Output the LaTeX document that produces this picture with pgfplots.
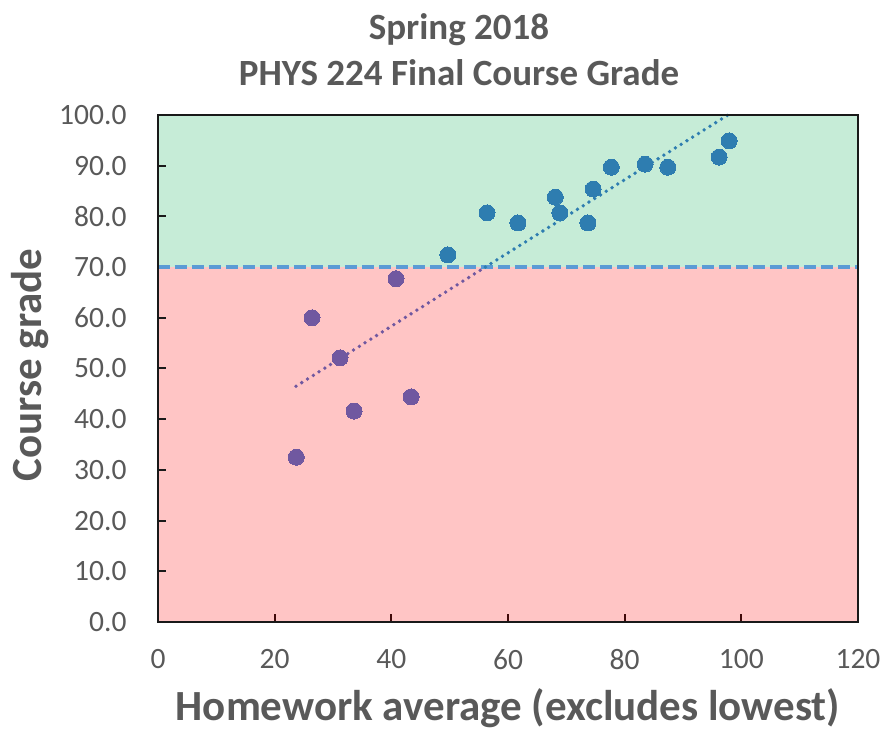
\documentclass[border=0pt]{standalone}
\usepackage{pgfplots}
\pgfplotsset{compat=1.18}
\usepackage{fontspec}
\setmainfont{Carlito}
\definecolor{greenbg}{RGB}{198,236,215}
\definecolor{redbg}{RGB}{255,197,197}
\definecolor{bluept}{RGB}{46,125,176}
\definecolor{purplept}{RGB}{112,88,160}
\definecolor{dashblue}{RGB}{91,155,213}
\definecolor{txt}{RGB}{89,89,89}
\definecolor{darkred}{RGB}{64,10,10}
\begin{document}
\begin{tikzpicture}
\path[use as bounding box] (-158pt,-109pt) rectangle (725pt,622pt);
\begin{axis}[
  scale only axis,
  width=700pt, height=507pt,
  xmin=0, xmax=120, ymin=0, ymax=100,
  xtick={0,20,...,120}, ytick={0,10,...,100},
  axis on top,
  axis line style={line width=2.5pt, draw=black!90},
  major tick length=0pt,
  xtick pos=left, ytick pos=left,
  /pgf/number format/assume math mode=true,
  ticklabel style={font=\fontsize{29.5}{34}\selectfont, text=txt},
  yticklabel={\pgfmathprintnumber[fixed,fixed zerofill,precision=1]{\tick}},
  xticklabel style={yshift=-24pt},
  yticklabel style={xshift=-28pt},
  xlabel={Homework average (excludes lowest)},
  ylabel={Course grade},
  label style={font=\bfseries\fontsize{43}{48}\selectfont, text=txt},
  xlabel style={at={(axis description cs:0.5,-0.17)}, anchor=center},
  ylabel style={at={(axis description cs:-0.183,0.507)}, anchor=center, rotate=0},
  clip=false,
]
\addplot[draw=none, fill=redbg, forget plot] coordinates {(0,0) (120,0) (120,70) (0,70)} -- cycle;
\addplot[draw=none, fill=greenbg, forget plot] coordinates {(0,70) (120,70) (120,100) (0,100)} -- cycle;
\pgfplotsinvokeforeach{10,20,30,40,50,60,80,90}{
  \addplot[black!90, line width=2pt, forget plot] coordinates {(0,#1) (1.3,#1)};
}
\pgfplotsinvokeforeach{20,40,60,80,100}{
  \addplot[darkred, line width=2pt, forget plot] coordinates {(#1,0) (#1,1.6)};
}
\addplot[dashblue, line width=4pt, dash pattern=on 12pt off 5pt] coordinates {(0,70) (120,70)};
\addplot[purplept, line width=3.8pt, line cap=round, dash pattern=on 0pt off 6.8pt] coordinates {(23.66,46.5) (56.1,70)};
\addplot[bluept, line width=3.8pt, line cap=round, dash pattern=on 0pt off 6.8pt] coordinates {(56.1,70) (97.7,100)};
\addplot[purplept, only marks, mark=*, mark size=8pt, mark options={fill=purplept, draw=purplept, line width=0pt}] coordinates {
(23.7,32.5) (26.4,60.0) (31.2,52.1) (33.6,41.6) (40.8,67.7) (43.4,44.4)};
\addplot[bluept, only marks, mark=*, mark size=8pt, mark options={fill=bluept, draw=bluept, line width=0pt}] coordinates {
(49.7,72.4) (56.4,80.7) (61.7,78.7) (68.1,83.8) (68.9,80.7) (73.7,78.7) (74.6,85.4) (77.7,89.7) (83.5,90.3) (87.4,89.7) (96.2,91.7) (97.9,94.9)};
\addplot[darkred, line width=2.6pt, forget plot] coordinates {(0,0) (120,0)};
\end{axis}
\node[font=\bfseries\fontsize{37}{42}\selectfont, text=txt] at (301pt,592pt) {Spring 2018};
\node[font=\bfseries\fontsize{37}{42}\selectfont, text=txt] at (301pt,549pt) {PHYS 224 Final Course Grade};
\end{tikzpicture}
\end{document}
